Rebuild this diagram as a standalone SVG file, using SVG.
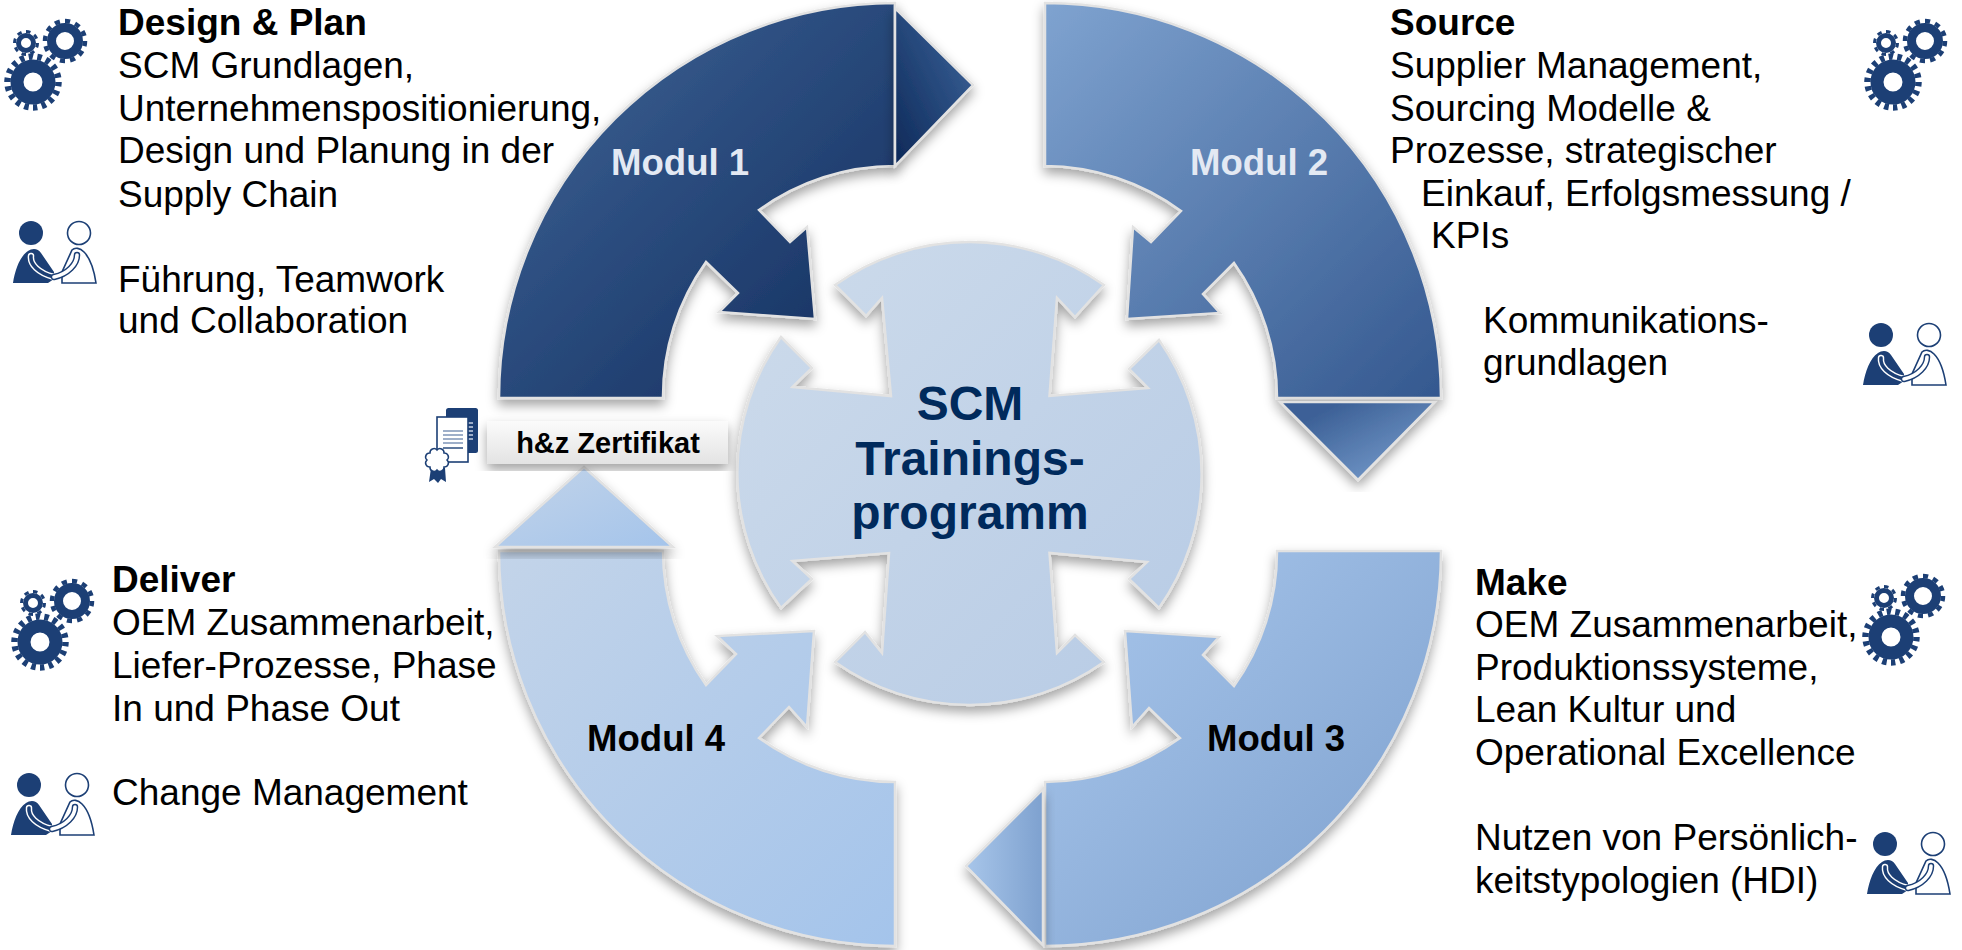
<svg xmlns="http://www.w3.org/2000/svg" width="1962" height="950" viewBox="0 0 1962 950">
<style>
text{font-family:"Liberation Sans",Arial,sans-serif}
.t{font-size:37px;fill:#000}
.h{font-size:37px;font-weight:700;fill:#000}
.m{font-size:36.6px;font-weight:700}
.c{font-size:48px;font-weight:700;fill:#002a5c;text-anchor:middle}
.shape{stroke:#e2e2e2;stroke-width:2.5;stroke-linejoin:miter;filter:url(#sh)}
.ico{fill:#1c3f75}
</style>
<defs>
<filter id="sh" x="-15%" y="-15%" width="130%" height="130%"><feDropShadow dx="0" dy="6" stdDeviation="6" flood-color="#000" flood-opacity=".36"/></filter>
<linearGradient id="g1" x1="0" y1="0" x2="1" y2="1"><stop offset="0" stop-color="#3f6699"/><stop offset="1" stop-color="#122c5c"/></linearGradient>
<linearGradient id="g1a" x1="0" y1="1" x2="1" y2="0"><stop offset="0.05" stop-color="#0f2b5b"/><stop offset="0.8" stop-color="#355b90"/></linearGradient>
<linearGradient id="g2" x1="0" y1="0" x2="1" y2="1"><stop offset="0" stop-color="#7fa3d0"/><stop offset="1" stop-color="#34588f"/></linearGradient>
<linearGradient id="g2a" x1="0" y1="0" x2="1" y2="1"><stop offset="0.2" stop-color="#3d6197"/><stop offset="0.8" stop-color="#6e93c4"/></linearGradient>
<linearGradient id="g3" x1="0" y1="0" x2="1" y2="1"><stop offset="0" stop-color="#a9c7ec"/><stop offset="1" stop-color="#7c9fcd"/></linearGradient>
<linearGradient id="g3a" x1="0" y1="0" x2="1" y2="0"><stop offset="0" stop-color="#a8c6ea"/><stop offset="1" stop-color="#7ea1cf"/></linearGradient>
<linearGradient id="g4" x1="0" y1="0" x2="1" y2="1"><stop offset="0" stop-color="#c3d4e9"/><stop offset="1" stop-color="#a4c4eb"/></linearGradient>
<linearGradient id="gc" x1="0" y1="0" x2="1" y2="1"><stop offset="0" stop-color="#cddbeb"/><stop offset="1" stop-color="#b7cbe5"/></linearGradient>
<linearGradient id="gb" x1="0" y1="0" x2="0" y2="1"><stop offset="0" stop-color="#fbfbfb"/><stop offset="1" stop-color="#e3e3e3"/></linearGradient>
<g id="gears" fill="none" stroke="#1c3f75">
<circle r="16" stroke-width="13"/><circle r="25.5" stroke-width="6.5" pathLength="36" stroke-dasharray="1 1"/>
<g transform="translate(32,-41)"><circle r="13.5" stroke-width="9"/><circle r="20" stroke-width="4.5" pathLength="24" stroke-dasharray="1 1"/></g>
<g transform="translate(-7,-39)"><circle r="7.5" stroke-width="5"/><circle r="11.5" stroke-width="3" pathLength="16" stroke-dasharray="1 1"/></g>
</g>
<g id="hands">
<circle class="ico" cx="31" cy="233" r="12"/>
<circle cx="79" cy="233" r="11.5" fill="#fff" stroke="#1c3f75" stroke-width="1.6"/>
<path class="ico" d="M13 283C15 270 20 256 28 251C32 248 38 248 41 253L54 272V279L48 283Z"/>
<path d="M62 283H96C94 270 90 258 84 252C80 248 75 247 72 250L62 272Z" fill="#fff" stroke="#1c3f75" stroke-width="1.6"/>
<path d="M31 256C30 264 38 273 54 277" fill="none" stroke="#fff" stroke-width="6.5" stroke-linecap="round"/>
<path d="M31 256C30 264 38 273 54 277" fill="none" stroke="#1c3f75" stroke-width="3.6" stroke-linecap="round"/>
<path d="M77 255C77 264 68 274 54 277" fill="none" stroke="#1c3f75" stroke-width="6.5" stroke-linecap="round"/>
<path d="M77 255C77 264 68 274 54 277" fill="none" stroke="#fff" stroke-width="3.6" stroke-linecap="round"/>
</g>
</defs>
<g id="modul-1">
<path class="shape" fill="url(#g1)" d="M499 398A396 395 0 0 1 895 3V166A232 232 0 0 0 759 210L790 242L807 227L815 319L719 312L738 293L706 262A232 232 0 0 0 663 398Z"/>
<text class="m" x="611" y="175" fill="#e3e9f3">Modul 1</text>
</g>
<g id="modul-2">
<path class="shape" fill="url(#g2)" d="M1045 3A396 395 0 0 1 1441 398H1277A232 232 0 0 0 1234 263L1203 294L1220 313L1127 319L1133 227L1151 242L1181 211A232 232 0 0 0 1045 166Z"/>
<text class="m" x="1190" y="175" fill="#e3e9f3">Modul 2</text>
</g>
<g id="modul-3">
<path class="shape" fill="url(#g3)" d="M1277 551H1441A396 395 0 0 1 1045 946V782A231 231 0 0 0 1180 738L1149 708L1132 727L1125 631L1219 637L1203 655L1234 686A231 231 0 0 0 1277 551Z"/>
<text class="m" x="1207" y="751" fill="#000">Modul 3</text>
</g>
<g id="modul-4">
<path class="shape" fill="url(#g4)" d="M499 551H663A232 232 0 0 0 706 685L736 654L717 636L814 631L807 727L789 707L759 738A232 232 0 0 0 895 782V946A396 395 0 0 1 499 551Z"/>
<text class="m" x="587" y="751" fill="#000">Modul 4</text>
</g>
<g id="connectors">
<path class="shape" fill="url(#g1a)" d="M895 8L973 85L895 166Z"/>
<path class="shape" fill="url(#g2a)" d="M1280 402H1435L1358 480Z"/>
<path class="shape" fill="url(#g3a)" d="M1043 789L966 866L1043 945Z"/>
<path class="shape" fill="url(#g4)" d="M584 467L673 547H495Z"/>
</g>
<g id="center">
<path class="shape" fill="url(#gc)" d="M835 285A232 232 0 0 1 1104 285L1075 317L1057 298L1049.5 396L1148 388L1129 369L1159 340A232 232 0 0 1 1159 608L1129 579L1147 562L1049.5 553L1057 653L1075 635L1104 662A232 232 0 0 1 835 662L865 632L882 653L889 553L792.5 561L812 579L781 608A232 232 0 0 1 781 337L812 368L792.5 387L891 396L882 298L866 316Z"/>
<text class="c" x="970" y="420">SCM</text>
<text class="c" x="970" y="475">Trainings-</text>
<text class="c" x="970" y="529">programm</text>
</g>
<g id="zertifikat">
<rect x="487" y="421" width="241" height="43" rx="2" fill="url(#gb)" filter="url(#sh)"/>
<text x="608" y="453" font-size="29" font-weight="700" text-anchor="middle" fill="#000">h&amp;z Zertifikat</text>
<rect class="ico" x="446" y="408" width="32" height="45" rx="2.5"/>
<path d="M468 423h5M468 427h5M468 431h5M468 435h5M468 439h5" stroke="#c7d2e3" stroke-width="1.4"/>
<rect x="437" y="417" width="31" height="45" fill="#fff" stroke="#1c3f75" stroke-width="1.6"/>
<path d="M443 431h20M443 435h20M443 439h20M443 443h20" stroke="#7f95b8" stroke-width="1.4"/><path d="M443 448h20" stroke="#1c3f75" stroke-width="1.4"/>
<path class="ico" d="M431 468H445L446 482L441 479L438 483L434 479L429 482Z"/>
<path transform="translate(437,460)" d="M10 0A4 4 0 0 1 7 7A4 4 0 0 1 0 10A4 4 0 0 1 -7 7A4 4 0 0 1 -10 0A4 4 0 0 1 -7 -7A4 4 0 0 1 0 -10A4 4 0 0 1 7 -7A4 4 0 0 1 10 0Z" fill="#fff" stroke="#1c3f75" stroke-width="1.5"/>
</g>
<g id="design-plan">
<use href="#gears" transform="translate(33,82)"/>
<use href="#hands"/>
<text class="h" x="118" y="35">Design &amp; Plan</text>
<text class="t" x="118" y="78">SCM Grundlagen,</text>
<text class="t" x="118" y="121">Unternehmenspositionierung,</text>
<text class="t" x="118" y="163">Design und Planung in der</text>
<text class="t" x="118" y="207">Supply Chain</text>
<text class="t" x="118" y="292">Führung, Teamwork</text>
<text class="t" x="118" y="333">und Collaboration</text>
</g>
<g id="source">
<use href="#gears" transform="translate(1893,82)"/>
<use href="#hands" transform="translate(1850,102)"/>
<text class="h" x="1390" y="35">Source</text>
<text class="t" x="1390" y="78">Supplier Management,</text>
<text class="t" x="1390" y="121">Sourcing Modelle &amp;</text>
<text class="t" x="1390" y="163">Prozesse, strategischer</text>
<text class="t" x="1421" y="206">Einkauf, Erfolgsmessung /</text>
<text class="t" x="1431" y="248">KPIs</text>
<text class="t" x="1483" y="333">Kommunikations-</text>
<text class="t" x="1483" y="375">grundlagen</text>
</g>
<g id="make">
<use href="#gears" transform="translate(1891,637)"/>
<use href="#hands" transform="translate(1854,611)"/>
<text class="h" x="1475" y="595">Make</text>
<text class="t" x="1475" y="637">OEM Zusammenarbeit,</text>
<text class="t" x="1475" y="680">Produktionssysteme,</text>
<text class="t" x="1475" y="722">Lean Kultur und</text>
<text class="t" x="1475" y="765">Operational Excellence</text>
<text class="t" x="1475" y="850">Nutzen von Persönlich-</text>
<text class="t" x="1475" y="893">keitstypologien (HDI)</text>
</g>
<g id="deliver">
<use href="#gears" transform="translate(40,642)"/>
<use href="#hands" transform="translate(-2,552)"/>
<text class="h" x="112" y="592">Deliver</text>
<text class="t" x="112" y="635">OEM Zusammenarbeit,</text>
<text class="t" x="112" y="678">Liefer-Prozesse, Phase</text>
<text class="t" x="112" y="721">In und Phase Out</text>
<text class="t" x="112" y="805">Change Management</text>
</g>
</svg>
